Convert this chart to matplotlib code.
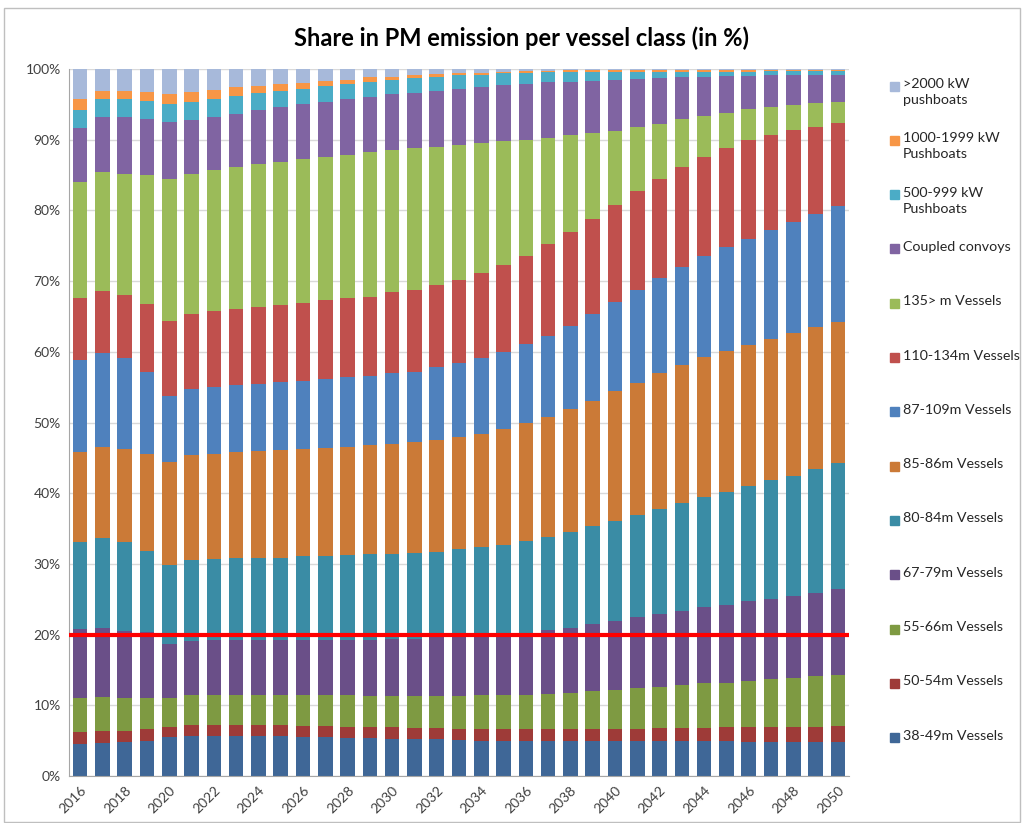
import numpy as np
import matplotlib
matplotlib.use("Agg")
import matplotlib.pyplot as plt
from matplotlib.patches import Rectangle

plt.rcParams['font.family'] = ['Lato', 'DejaVu Sans']

years = list(range(2016, 2051))

labels = ['38-49m Vessels', '50-54m Vessels', '55-66m Vessels', '67-79m Vessels',
          '80-84m Vessels', '85-86m Vessels', '87-109m Vessels', '110-134m Vessels',
          '135> m Vessels', 'Coupled convoys', '500-999 kW\nPushboats',
          '1000-1999 kW\nPushboats', '>2000 kW\npushboats']

colors = ['#3F6797', '#9E3B38', '#7E9A42', '#6A4F88', '#3A8CA5', '#CB7A37',
          '#4F81BD', '#C0504D', '#9BBB59', '#8064A2', '#4BACC6', '#F79646', '#A7B9DA']

# share in % per vessel class, 2016..2050
v38_49 = [4.5, 4.7, 4.8, 5.0, 5.5, 5.7, 5.6, 5.6, 5.6, 5.6, 5.5, 5.5, 5.4, 5.4, 5.3, 5.2, 5.2, 5.1,
          5.0, 5.0, 5.0, 4.9, 4.9, 4.9, 4.9, 4.9, 4.9, 4.9, 4.9, 4.9, 4.8, 4.8, 4.8, 4.8, 4.8]
v50_54 = [1.7, 1.6, 1.6, 1.6, 1.5, 1.5, 1.6, 1.6, 1.6, 1.6, 1.6, 1.6, 1.6, 1.6, 1.6, 1.6, 1.6, 1.6,
          1.7, 1.6, 1.6, 1.7, 1.7, 1.7, 1.8, 1.8, 1.9, 1.9, 1.9, 2.0, 2.1, 2.1, 2.2, 2.2, 2.3]
v55_66 = [4.8, 4.9, 4.7, 4.4, 4.1, 4.2, 4.2, 4.2, 4.2, 4.2, 4.3, 4.3, 4.4, 4.3, 4.4, 4.5, 4.5, 4.6,
          4.7, 4.8, 4.9, 5.0, 5.2, 5.4, 5.5, 5.7, 5.8, 6.1, 6.3, 6.3, 6.5, 6.8, 6.9, 7.1, 7.2]
v67_79 = [9.8, 9.8, 9.4, 9.3, 7.5, 7.7, 7.8, 7.8, 7.8, 7.8, 7.9, 7.9, 7.9, 8.0, 8.1, 8.1, 8.3, 8.4,
          8.4, 8.6, 8.7, 9.1, 9.2, 9.5, 9.7, 10.1, 10.3, 10.5, 10.8, 11.0, 11.3, 11.3, 11.6, 11.8, 12.1]
v80_84 = [12.3, 12.6, 12.6, 11.5, 11.2, 11.5, 11.5, 11.6, 11.7, 11.7, 11.8, 11.8, 11.9, 12.1, 12.0,
          12.1, 12.1, 12.4, 12.6, 12.7, 13.0, 13.1, 13.5, 13.8, 14.2, 14.4, 14.9, 15.2, 15.5, 16.0,
          16.3, 16.8, 17.0, 17.5, 17.9]
v85_86 = [12.7, 12.9, 13.1, 13.7, 14.6, 14.8, 14.9, 15.0, 15.1, 15.2, 15.2, 15.3, 15.4, 15.4, 15.6,
          15.7, 15.8, 15.8, 16.0, 16.4, 16.7, 17.0, 17.4, 17.8, 18.3, 18.7, 19.2, 19.5, 19.8, 19.9,
          20.0, 20.0, 20.2, 20.1, 19.9]
v87_109 = [13.0, 13.3, 12.9, 11.7, 9.3, 9.3, 9.4, 9.5, 9.5, 9.6, 9.6, 9.7, 9.8, 9.8, 10.0, 10.0,
           10.3, 10.5, 10.7, 10.9, 11.2, 11.5, 11.8, 12.2, 12.6, 13.1, 13.4, 13.9, 14.3, 14.7, 15.0,
           15.4, 15.6, 16.0, 16.4]
v110_134 = [8.8, 8.8, 9.0, 9.6, 10.6, 10.7, 10.8, 10.7, 10.8, 10.9, 11.0, 11.2, 11.2, 11.2, 11.4,
            11.6, 11.6, 11.8, 12.0, 12.3, 12.5, 12.9, 13.3, 13.5, 13.7, 14.0, 14.1, 14.2, 14.1, 14.0,
            13.9, 13.5, 13.1, 12.3, 11.8]
v135 = [16.4, 16.8, 17.1, 18.2, 20.1, 19.8, 19.9, 20.2, 20.3, 20.3, 20.3, 20.3, 20.3, 20.4, 20.1,
        20.0, 19.6, 19.1, 18.4, 17.5, 16.4, 15.0, 13.6, 12.1, 10.6, 9.1, 7.7, 6.7, 5.8, 5.0, 4.4,
        3.9, 3.5, 3.4, 3.0]
coupled = [7.6, 7.8, 8.0, 7.9, 8.1, 7.6, 7.5, 7.5, 7.6, 7.7, 7.8, 7.8, 7.9, 7.9, 7.9, 7.8, 7.9, 7.9,
           8.0, 7.9, 7.9, 7.9, 7.6, 7.4, 7.1, 6.8, 6.5, 5.9, 5.5, 5.2, 4.7, 4.5, 4.2, 4.0, 3.8]
push500 = [2.6, 2.6, 2.5, 2.6, 2.6, 2.6, 2.6, 2.5, 2.4, 2.3, 2.2, 2.2, 2.1, 2.1, 2.0, 2.1, 2.0, 2.0,
           1.7, 1.7, 1.6, 1.5, 1.4, 1.3, 1.2, 1.0, 0.9, 0.8, 0.7, 0.6, 0.6, 0.6, 0.6, 0.5, 0.5]
push1000 = [1.5, 1.1, 1.2, 1.2, 1.4, 1.3, 1.3, 1.2, 1.0, 1.0, 0.8, 0.7, 0.6, 0.6, 0.5, 0.4, 0.4, 0.2,
            0.3, 0.2, 0.2, 0.1, 0.2, 0.2, 0.2, 0.2, 0.2, 0.2, 0.2, 0.2, 0.2, 0.1, 0.1, 0.1, 0.1]
push2000 = [4.3, 3.1, 3.1, 3.3, 3.5, 3.3, 2.9, 2.6, 2.4, 2.1, 2.0, 1.7, 1.5, 1.2, 1.1, 0.9, 0.7, 0.6,
            0.5, 0.4, 0.3, 0.3, 0.2, 0.2, 0.2, 0.2, 0.2, 0.2, 0.2, 0.2, 0.2, 0.2, 0.2, 0.2, 0.2]

series = [v38_49, v50_54, v55_66, v67_79, v80_84, v85_86, v87_109, v110_134,
          v135, coupled, push500, push1000, push2000]

fig = plt.figure(figsize=(10.24, 8.23), dpi=100)
ax = fig.add_axes([69 / 1024, 1 - 776 / 823, 780 / 1024, 707 / 823])

x = np.arange(len(years))
bottom = np.zeros(len(years))
for vals, c in zip(series, colors):
    ax.bar(x, vals, bottom=bottom, width=0.66, color=c, zorder=2)
    bottom += np.array(vals)

ax.axhline(20, color='#FF0000', lw=3, zorder=3)

ax.set_xlim(-0.5, len(years) - 0.5)
ax.set_ylim(0, 100)
ax.set_yticks(range(0, 101, 10))
ax.set_yticklabels(['%d%%' % t for t in range(0, 101, 10)], fontsize=10, color='#404040')
ax.set_xticks(x[::2])
ax.set_xticklabels([str(y) for y in years[::2]], rotation=45, ha='right',
                   rotation_mode='anchor', fontsize=10, color='#404040')
ax.tick_params(length=0, pad=6)
ax.grid(axis='y', color='#D9D9D9', lw=1, zorder=0)
ax.set_axisbelow(True)
for s in ['top', 'right']:
    ax.spines[s].set_visible(False)
for s in ['left', 'bottom']:
    ax.spines[s].set_color('#A6A6A6')

fig.text(521 / 1024, 1 - 38 / 823, 'Share in PM emission per vessel class (in %)',
         ha='center', va='center', fontsize=17, fontweight='bold', color='black')

# legend, reversed order like the original
y0 = 86
for i, (lab, c) in enumerate(zip(labels[::-1], colors[::-1])):
    yy = y0 + i * 54.3
    fig.patches.append(Rectangle((890 / 1024, 1 - (yy + 4.5) / 823), 9 / 1024, 9 / 823,
                                 transform=fig.transFigure, color=c))
    fig.text(903 / 1024, 1 - (yy - 8) / 823, lab, ha='left', va='top',
             fontsize=10.3, color='#262626', linespacing=1.4)

fig.patches.append(Rectangle((4 / 1024, 1 / 823), 1016 / 1024, 814 / 823,
                             transform=fig.transFigure, fill=False, ec='#BFBFBF', lw=1))

fig.savefig('out.png', dpi=100)
